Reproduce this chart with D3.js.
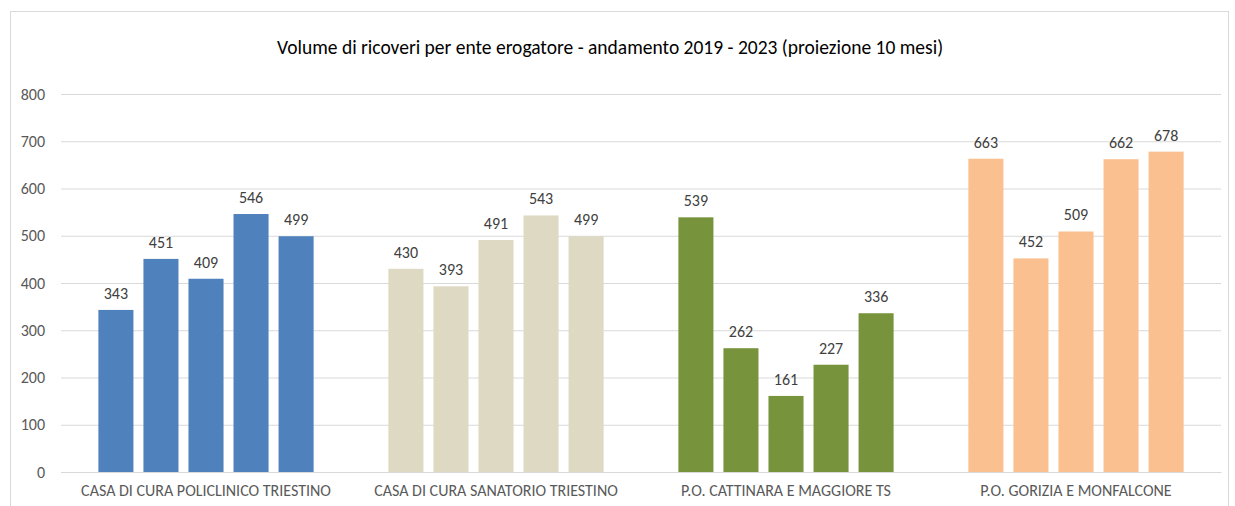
<!DOCTYPE html>
<html>
<head>
<meta charset="utf-8">
<script src="https://cdn.jsdelivr.net/npm/d3@7"></script>
<style>
  body { margin: 0; background: #fff; }
  text { font-family: Carlito, "Liberation Sans", "Open Sans", sans-serif; }
</style>
</head>
<body>
<div id="chart"></div>
<script>
const categories = ['CASA DI CURA POLICLINICO TRIESTINO', 'CASA DI CURA SANATORIO TRIESTINO',
                    'P.O. CATTINARA E MAGGIORE TS', 'P.O. GORIZIA E MONFALCONE'];
const years = ['2019', '2020', '2021', '2022', '2023'];
const policlinico = [343, 451, 409, 546, 499];
const sanatorio = [430, 393, 491, 543, 499];
const cattinara = [539, 262, 161, 227, 336];
const gorizia = [663, 452, 509, 662, 678];
const yTicks = [0, 100, 200, 300, 400, 500, 600, 700, 800];
const groupColors = ['#4f81bd', '#ddd9c3', '#77933c', '#fac090'];

const seriesByCategory = [policlinico, sanatorio, cattinara, gorizia];

const width = 1235, height = 506;
const plotLeft = 61, plotRight = 1221, plotTop = 94, plotBottom = 472;

const svg = d3.select('#chart').append('svg')
              .attr('width', width)
              .attr('height', height);

svg.append('rect')
   .attr('x', 10.5).attr('y', 11.5)
   .attr('width', 1218).attr('height', 510)
   .attr('fill', '#fff')
   .attr('stroke', '#d9d9d9');

svg.append('text')
   .attr('x', 610).attr('y', 54)
   .attr('text-anchor', 'middle')
   .attr('font-size', '19.5px')
   .attr('fill', '#000')
   .text('Volume di ricoveri per ente erogatore - andamento 2019 - 2023 (proiezione 10 mesi)');

const y = d3.scaleLinear().domain([0, 800]).range([plotBottom, plotTop]);
const x0 = d3.scaleBand().domain(categories).range([plotLeft, plotRight]).padding(0);
const x1 = d3.scaleBand().domain(years).range([0, x0.bandwidth()])
             .paddingInner(0.222).paddingOuter(0.83);

const yAxis = d3.axisLeft(y).tickValues(yTicks).tickSize(-(plotRight - plotLeft)).tickPadding(16);
const gy = svg.append('g')
              .attr('transform', 'translate(' + plotLeft + ',0)')
              .call(yAxis);
gy.select('.domain').remove();
gy.selectAll('.tick line').attr('stroke', '#d9d9d9');
gy.selectAll('.tick text').attr('fill', '#595959').attr('font-size', '16px');

const groups = svg.selectAll('.group')
                  .data(categories)
                  .enter()
                    .append('g')
                    .attr('class', 'group')
                    .attr('transform', d => 'translate(' + x0(d) + ',0)');

groups.each(function(cat, ci) {
    const g = d3.select(this);
    const vals = seriesByCategory[ci];
    g.selectAll('rect')
     .data(vals)
     .enter()
       .append('rect')
       .attr('x', (d, i) => x1(years[i]))
       .attr('y', d => y(d))
       .attr('width', x1.bandwidth())
       .attr('height', d => y(0) - y(d))
       .attr('fill', groupColors[ci]);
    g.selectAll('.lbl')
     .data(vals)
     .enter()
       .append('text')
       .attr('class', 'lbl')
       .attr('x', (d, i) => x1(years[i]) + x1.bandwidth() / 2)
       .attr('y', d => y(d) - 11)
       .attr('text-anchor', 'middle')
       .attr('font-size', '16px')
       .attr('fill', '#404040')
       .text(d => d);
});

const xAxis = d3.axisBottom(x0).tickSize(0).tickPadding(13);
const gx = svg.append('g')
              .attr('transform', 'translate(0,' + plotBottom + ')')
              .call(xAxis);
gx.select('.domain').attr('stroke', '#d9d9d9');
gx.selectAll('.tick text').attr('fill', '#595959').attr('font-size', '16px');
</script>
</body>
</html>
